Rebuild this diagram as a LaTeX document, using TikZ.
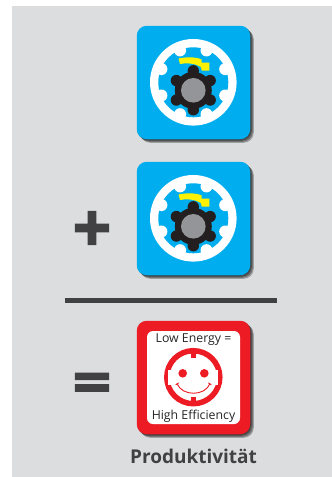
\documentclass[tikz,border=0pt]{standalone}
\usepackage{fontspec}
\setmainfont{Open Sans}
\newfontfamily\symbolfont[BoldFeatures={FakeBold=6}]{DejaVu Sans}
\newfontfamily\equalsfont[BoldFeatures={FakeBold=3}]{DejaVu Sans}
\definecolor{panelgray}{HTML}{DCDDDE}
\definecolor{iconblue}{HTML}{00AEEF}
\definecolor{iconred}{HTML}{ED1C24}
\definecolor{arrowyellow}{HTML}{FFF200}
\definecolor{gearblack}{HTML}{231F20}
\definecolor{hubgray}{HTML}{939598}
\definecolor{textgray}{HTML}{414042}
\usetikzlibrary{calc}
\tikzset{
  iconbox/.style={rounded corners=10pt, minimum size=113.5pt, inner sep=0pt},
  facebox/.style={fill=white, rounded corners=6pt, minimum size=93pt, inner sep=0pt},
  signtext/.style={font=\symbolfont\bfseries\fontsize{50}{50}\selectfont, text=textgray, inner sep=0pt},
  equalstext/.style={font=\equalsfont\bfseries\fontsize{52}{52}\selectfont, text=textgray, inner sep=0pt},
  labeltext/.style={font=\fontsize{12.3}{14}\selectfont, text=black!85, inner sep=0pt},
  softshadow/.pic={
    \foreach \s in {0.5,1.5,2.5,3.5}
      \fill[black, opacity=0.28, rounded corners=10pt] (-56.75+\s,-56.75+\s) rectangle (56.75+\s,56.75+\s);
  },
  gearsymbol/.pic={
    \fill[white] (0,0) circle (43.3);
    \fill[iconblue] (0,0) circle (35);
    \foreach \a in {22.5,67.5,...,337.5}
      \fill[white] (\a:34.5) circle (6);
    \fill[arrowyellow] (-14.8,-23.8) .. controls (-7,-25.5) and (3,-25.5) .. (8.4,-22.8)
      -- (8.4,-19.6) -- (16,-19.6) -- (16,-11.6) -- (8.4,-11.6) -- (7.7,-15.3)
      .. controls (2,-19) and (-7,-19.8) .. (-13.3,-18.3) -- cycle;
    \fill[gearblack] (0,8) circle (18.5);
    \foreach \a in {30,90,...,330}
      \fill[gearblack] ($(0,8)+(\a:19.5)$) circle (5.7);
    \fill[hubgray] (0,8) circle (12.3);
  }
}
\begin{document}
\begin{tikzpicture}[x=1pt,y=-1pt]
\useasboundingbox (0,0) rectangle (332,477);
\fill[panelgray] (12,6) rectangle (332,477);

% first gear
\pic at (193.5,82.5) {softshadow};
\node[iconbox, fill=iconblue] (gearone) at (193.5,82.5) {};
\pic at (193.3,82.3) {gearsymbol};

% second gear
\pic at (193.5,218.5) {softshadow};
\node[iconbox, fill=iconblue] (geartwo) at (193.5,218.5) {};
\pic at (193.3,218.3) {gearsymbol};

\node[signtext] (plus) at (92,228) {+};
\fill[textgray] (65,298) rectangle (277,303);
\node[equalstext] (equals) at (92,386) {=};

% result
\pic at (193.5,377.5) {softshadow};
\node[iconbox, fill=iconred] (result) at (193.5,377.5) {};
\node[facebox] (face) at (193.5,377.5) {};
\node[labeltext] (lowenergy) at (193.5,339.5) {Low Energy =};
\node[labeltext] (highefficiency) at (193.5,416) {High Efficiency};

\draw[iconred, line width=5.5pt] (193.3,377.2) circle (26.5);
\fill[white] (168.3,370) rectangle (171.5,384.5);
\fill[white] (215.1,370) rectangle (218.3,384.5);
\fill[iconred] (191,350) rectangle (195.6,357.7);
\fill[iconred] (191,396.7) rectangle (195.6,404);
\fill[iconred] (182.7,373.3) circle (4.3);
\fill[iconred] (204.3,373.3) circle (4.3);
\draw[iconred, line width=0.9pt] (177,383.5) .. controls (182,396.5) and (205,396.5) .. (210,383.5);
\draw[iconred, line width=0.9pt] (175.6,385) -- (178.6,382.8);
\draw[iconred, line width=0.9pt] (211.4,385) -- (208.4,382.8);

\node[font=\bfseries\fontsize{19}{22}\selectfont, text=textgray, inner sep=0pt] (produktivitaet) at (193.5,456) {Produktivität};
\end{tikzpicture}
\end{document}
